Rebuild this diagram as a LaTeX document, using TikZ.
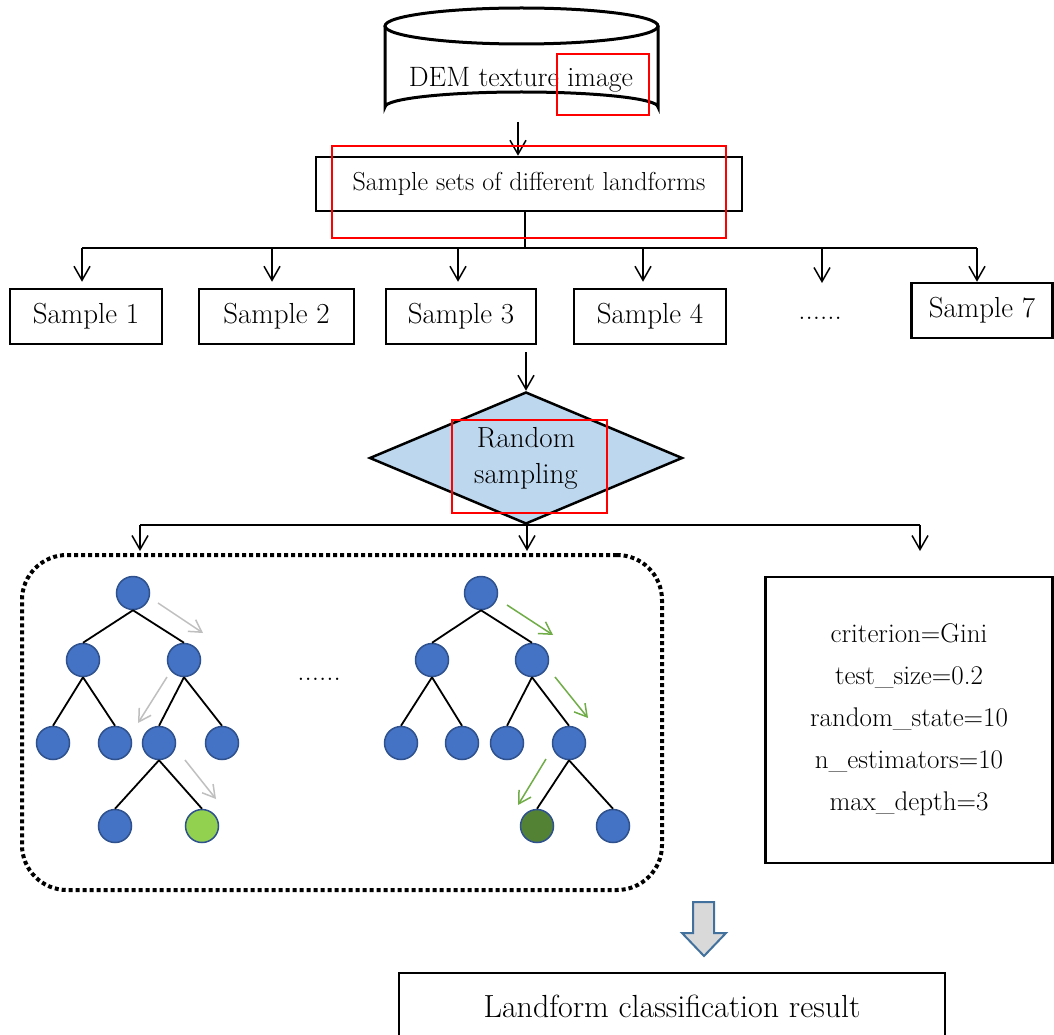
\documentclass[tikz,border=0pt]{standalone}
\usetikzlibrary{arrows.meta,shapes.geometric}
\definecolor{nodeblue}{HTML}{4472C4}
\definecolor{nodeedge}{HTML}{2F528F}
\definecolor{lgreen}{HTML}{92D050}
\definecolor{dgreen}{HTML}{548235}
\definecolor{agreen}{HTML}{70AD47}
\definecolor{agray}{HTML}{BFBFBF}
\definecolor{diafill}{HTML}{BDD7EE}
\definecolor{blkfill}{HTML}{D9D9D9}
\definecolor{blkedge}{HTML}{41719C}
\definecolor{annred}{HTML}{FF0000}
\begin{document}
\begin{tikzpicture}[x=1pt,y=-1pt,
  box/.style={draw, line width=2.5pt, minimum height=55pt, inner sep=0pt, font=\fontsize{29}{33}\selectfont},
  conn/.style={line width=1.5pt},
  arr/.style={conn, -{Straight Barb[length=14pt,width=16pt]}},
  tn/.style={circle, fill=nodeblue, draw=nodeedge, line width=1.5pt, minimum size=33pt, inner sep=0pt},
  te/.style={line width=1.8pt},
  garr/.style={line width=1.5pt, draw=agray, -{Straight Barb[length=12pt,width=14pt]}},
  gnarr/.style={line width=1.5pt, draw=agreen, -{Straight Barb[length=12pt,width=14pt]}},
  ann/.style={draw=annred, line width=2pt}
]
\useasboundingbox (0,0) rectangle (1054,1035);
\fill[white] (0,0) rectangle (1054,1035);

% cylinder
\draw[line width=3pt, fill=white] (385,26) -- (385,107) arc[start angle=180,end angle=360,x radius=136.5,y radius=15] -- (658,26);
\draw[line width=3pt] (521.5,26) ellipse[x radius=136.5,y radius=18];
\node[font=\fontsize{28}{32}\selectfont] (dem) at (521,80) {DEM texture image};
\coordinate (cylbot) at (518,122);

% sample sets
\node[box, minimum width=426pt, minimum height=54pt, font=\fontsize{26}{30}\selectfont] (sets) at (529,184) {Sample sets of different landforms};
\draw[arr] (cylbot) -- (cylbot |- sets.north);

% samples
\node[box, minimum width=152pt] (s1) at (86,316.5) {Sample 1};
\node[box, minimum width=155pt] (s2) at (276.5,316.5) {Sample 2};
\node[box, minimum width=150pt] (s3) at (461,316.5) {Sample 3};
\node[box, minimum width=152pt] (s4) at (650,316.5) {Sample 4};
\node[font=\fontsize{29}{33}\selectfont] (sdots) at (820,318) {......};
\node[box, minimum width=141pt] (s7) at (982,310.5) {Sample 7};

\coordinate (split) at (525,248);
\coordinate (h1) at (82,248);
\coordinate (h2) at (272,248);
\coordinate (h3) at (458,248);
\coordinate (h4) at (643,248);
\coordinate (h5) at (822,248);
\coordinate (h7) at (977,248);
\coordinate (d5) at (822,283);
\draw[conn] (sets.south -| split) -- (split);
\draw[conn] (h1) -- (h7);
\draw[arr, shorten >=6pt] (h1) -- (h1 |- s1.north);
\draw[arr, shorten >=6pt] (h2) -- (h2 |- s2.north);
\draw[arr, shorten >=6pt] (h3) -- (h3 |- s3.north);
\draw[arr, shorten >=6pt] (h4) -- (h4 |- s4.north);
\draw[arr] (h5) -- (d5);
\draw[arr] (h7) -- (h7 |- s7.north);

% diamond
\node[diamond, draw, line width=2.5pt, fill=diafill, minimum width=313pt, minimum height=132pt, aspect=2.37, inner sep=0pt, align=center, font=\fontsize{29}{36}\selectfont] (rs) at (526,458) {Random\\sampling};
\coordinate (s3out) at (526,352);
\draw[arr] (s3out) -- (rs.north);

\coordinate (b1) at (140,525);
\coordinate (b2) at (527,525);
\coordinate (b3) at (920,525);
\coordinate (e1) at (140,551);
\coordinate (e2) at (527,551);
\coordinate (e3) at (920,551);
\draw[conn] (b1) -- (b3);
\draw[arr] (b1) -- (e1);
\draw[arr] (b2) -- (e2);
\draw[arr] (b3) -- (e3);

% forest container
\node[draw, line width=4pt, dash pattern=on 4pt off 3pt, rounded corners=45pt, minimum width=640pt, minimum height=335pt, inner sep=0pt] (forest) at (342,722.5) {};

% tree 1
\node[tn] (a0) at (133,593) {};
\node[tn] (a1) at (83,660) {};
\node[tn] (a2) at (184,660) {};
\node[tn] (a3) at (53,743) {};
\node[tn] (a4) at (115,743) {};
\node[tn] (a5) at (159,743) {};
\node[tn] (a6) at (222,743) {};
\node[tn] (a7) at (115,826) {};
\node[tn, fill=lgreen] (a8) at (202,826) {};
\draw[te] (a0.south) -- (a1.north); \draw[te] (a0.south) -- (a2.north);
\draw[te] (a1.south) -- (a3.north); \draw[te] (a1.south) -- (a4.north);
\draw[te] (a2.south) -- (a5.north); \draw[te] (a2.south) -- (a6.north);
\draw[te] (a5.south) -- (a7.north); \draw[te] (a5.south) -- (a8.north);
\coordinate (g1s) at (158,603); \coordinate (g1e) at (203,633);
\coordinate (g2s) at (167,677); \coordinate (g2e) at (138,723);
\coordinate (g3s) at (185,760); \coordinate (g3e) at (216,799);
\draw[garr] (g1s) -- (g1e);
\draw[garr] (g2s) -- (g2e);
\draw[garr] (g3s) -- (g3e);

\node[font=\fontsize{29}{33}\selectfont] (tdots) at (319,679) {......};

% tree 2
\node[tn] (b0) at (481,593) {};
\node[tn] (bb1) at (432,660) {};
\node[tn] (bb2) at (532,660) {};
\node[tn] (bb3) at (401,743) {};
\node[tn] (bb4) at (462,743) {};
\node[tn] (bb5) at (507,743) {};
\node[tn] (bb6) at (569,743) {};
\node[tn, fill=dgreen] (bb7) at (537,826) {};
\node[tn] (bb8) at (613,826) {};
\draw[te] (b0.south) -- (bb1.north); \draw[te] (b0.south) -- (bb2.north);
\draw[te] (bb1.south) -- (bb3.north); \draw[te] (bb1.south) -- (bb4.north);
\draw[te] (bb2.south) -- (bb5.north); \draw[te] (bb2.south) -- (bb6.north);
\draw[te] (bb6.south) -- (bb7.north); \draw[te] (bb6.south) -- (bb8.north);
\coordinate (k1s) at (507,605); \coordinate (k1e) at (553,635);
\coordinate (k2s) at (555,677); \coordinate (k2e) at (588,718);
\coordinate (k3s) at (546,759); \coordinate (k3e) at (518,805);
\draw[gnarr] (k1s) -- (k1e);
\draw[gnarr] (k2s) -- (k2e);
\draw[gnarr] (k3s) -- (k3e);

% parameters
\node[draw, line width=2.5pt, minimum width=287pt, minimum height=286pt, inner sep=0pt, align=center, font=\fontsize{27}{42}\selectfont] (params) at (909,720) {criterion=Gini\\test\_size=0.2\\random\_state=10\\n\_estimators=10\\max\_depth=3};

% block arrow
\draw[line width=2pt, draw=blkedge, fill=blkfill, line join=miter] (693,902) -- (714,902) -- (714,933) -- (726,933) -- (704,956) -- (682,933) -- (693,933) -- cycle;

% result box (cut off at bottom)
\draw[line width=2.5pt] (399,1035) -- (399,973) -- (945,973) -- (945,1035);
\node[font=\fontsize{32}{36}\selectfont] (result) at (672,1006) {Landform classification result};

% red annotation rectangles
\draw[ann] (557,54) rectangle (649,115);
\draw[ann] (332,146) rectangle (726,238);
\draw[ann] (452,420) rectangle (607,513);
\end{tikzpicture}
\end{document}
